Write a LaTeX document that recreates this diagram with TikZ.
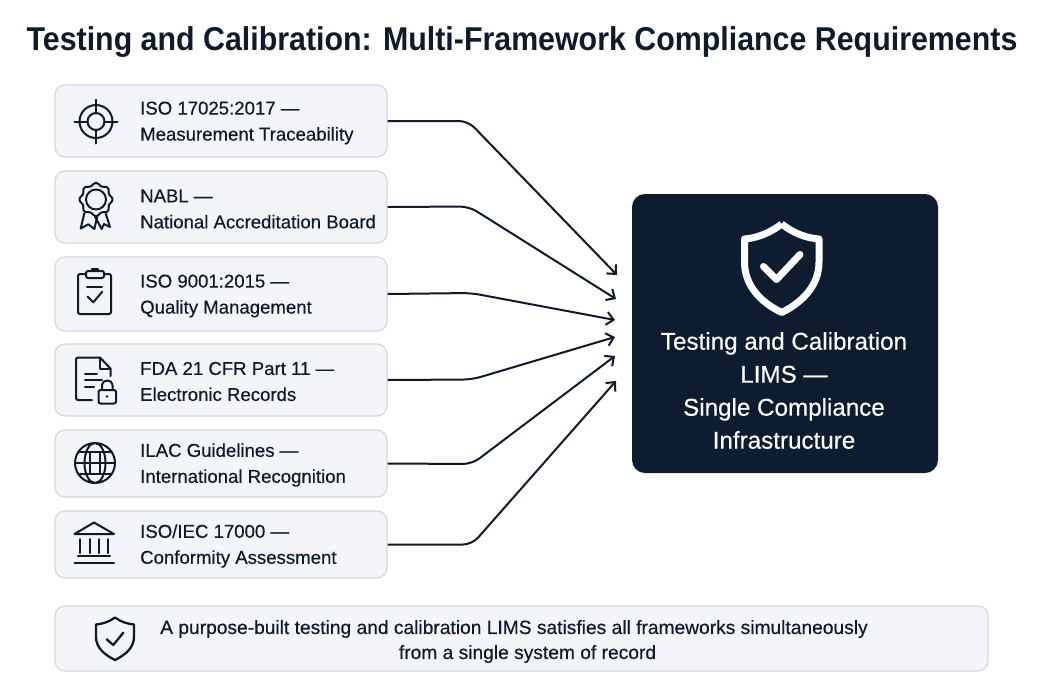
\documentclass[tikz,border=0pt]{standalone}
\usepackage{fontspec}
\setmainfont{Liberation Sans}
\newfontfamily\medfont[FakeBold=0.4]{Liberation Sans}
\newfontfamily\headfont[FakeStretch=0.92]{Liberation Sans Bold}
\usetikzlibrary{arrows.meta}
\definecolor{ink}{HTML}{0F1A2B}
\definecolor{panel}{HTML}{0E1C30}
\definecolor{boxfill}{HTML}{F3F5F8}
\definecolor{boxline}{HTML}{D4D7DC}
\tikzset{
    itembox/.style={draw=boxline, line width=1.2pt, fill=boxfill, rounded corners=10pt,
        minimum width=332pt, inner sep=0pt},
    itemtext/.style={anchor=west, align=left, text=ink, inner sep=0pt,
        font=\medfont\fontsize{18.6}{26}\selectfont},
    arrowline/.style={draw=ink, line width=2pt, rounded corners=9pt,
        -{Straight Barb[length=7pt,width=13pt,line width=2pt]}},
    icon/.style={draw=ink, line width=2pt, line cap=round, line join=round}
}
\begin{document}
\begin{tikzpicture}[x=1pt,y=-1pt]
    \useasboundingbox (0,0) rectangle (1041,694);
    \fill[white] (0,0) rectangle (1041,694);

    % title
    \node[text=ink, inner sep=0pt, font=\headfont\fontsize{33}{38}\selectfont] (title) at (522,42.5)
        {Testing and Calibration: Multi-Framework Compliance Requirements};

    % left column boxes
    \node[itembox, minimum height=72pt] (iso) at (221,121) {};
    \node[itembox, minimum height=72pt] (nabl) at (221,207) {};
    \node[itembox, minimum height=74pt] (qms) at (221,294) {};
    \node[itembox, minimum height=72pt] (fda) at (221,380) {};
    \node[itembox, minimum height=67pt] (ilac) at (221,463.5) {};
    \node[itembox, minimum height=67pt] (conf) at (221,544.5) {};

    % box labels
    \node[itemtext] (isotext) at (140,123) {ISO 17025:2017 —\\Measurement Traceability};
    \node[itemtext] (nabltext) at (140,209) {NABL —\\National Accreditation Board};
    \node[itemtext] (qmstext) at (140,296) {ISO 9001:2015 —\\Quality Management};
    \node[itemtext] (fdatext) at (140,381.5) {FDA 21 CFR Part 11 —\\Electronic Records};
    \node[itemtext] (ilactext) at (140,465) {ILAC Guidelines —\\International Recognition};
    \node[itemtext] (conftext) at (140,546) {ISO/IEC 17000 —\\Conformity Assessment};

    % dark panel on the right
    \node[fill=panel, rounded corners=13pt, minimum width=306pt, minimum height=279pt, inner sep=0pt]
        (lims) at (785,333.5) {};
    \node[text=white, align=center, inner sep=0pt, font=\medfont\fontsize{24.2}{33}\selectfont]
        (limstext) at (784,390.5) {Testing and Calibration\\LIMS —\\Single Compliance\\Infrastructure};

    % big shield
    \draw[white, line width=7pt, line join=round]
        (781.7,224) .. controls (770,233) and (757,238) .. (744.5,239)
        -- (744.5,262) .. controls (744.5,285) and (760,302) .. (781.7,312.5)
        .. controls (803,302) and (819,285) .. (819,262)
        -- (819,239) .. controls (806,238) and (793,233) .. (781.7,224);
    \draw[white, line width=7pt, line cap=round, line join=round]
        (763.5,266.5) -- (776.5,279.5) -- (800,254.5);

    % connectors
    \coordinate (bend1) at (468,121);
    \coordinate (bend2) at (469,206.5);
    \coordinate (bend3) at (471,293);
    \coordinate (bend4) at (472,379.5);
    \coordinate (bend5) at (472,464);
    \coordinate (bend6) at (472,544.5);
    \coordinate (end1) at (617,275);
    \coordinate (end2) at (616,299);
    \coordinate (end3) at (615,320);
    \coordinate (end4) at (615,337);
    \coordinate (end5) at (615,356);
    \coordinate (end6) at (616,381);
    \draw[arrowline] (iso.east) -- (bend1) -- (end1);
    \draw[arrowline] (nabl.east) -- (bend2) -- (end2);
    \draw[arrowline] (qms.east) -- (bend3) -- (end3);
    \draw[arrowline] (fda.east) -- (bend4) -- (end4);
    \draw[arrowline] (ilac.east) -- (bend5) -- (end5);
    \draw[arrowline] (conf.east) -- (bend6) -- (end6);

    % target icon
    \draw[icon] (96,121.5) circle (16.5) (96,121.5) circle (8.5);
    \draw[icon] (74.5,121.5) -- (87.5,121.5) (104.5,121.5) -- (117.5,121.5)
        (96,99.5) -- (96,113) (96,130) -- (96,143.5);

    % rosette icon
    \draw[icon] plot[domain=0:360, samples=121, smooth]
        ({96+(15.3+1.2*cos(8*\x))*cos(\x)},{199.5+(15.3+1.2*cos(8*\x))*sin(\x)});
    \draw[icon] (96,199.5) circle (10);
    \draw[icon] (84.3,213.3) -- (80.7,228.5) -- (88.3,224.3) -- (94.3,229) -- (97.3,216.7);
    \draw[icon] (95,216.7) -- (101.7,229) -- (104,224) -- (110,227) -- (105.7,213.3);

    % clipboard icon
    \draw[icon, rounded corners=2pt] (85,274) -- (78,274) -- (78,314) -- (111,314) -- (111,274) -- (104,274);
    \draw[icon, fill=boxfill, rounded corners=2pt] (86,278) rectangle (104,271);
    \draw[icon] (92,271) -- (92,269) -- (98,269) -- (98,271);
    \draw[icon] (87,286.7) -- (102,286.7);
    \draw[icon] (87.7,296.7) -- (93.3,302.3) -- (102.3,291.7);

    % document with lock icon
    \draw[icon, rounded corners=2pt] (92,400) -- (76,400) -- (76,357.5) -- (100,357.5);
    \draw[icon] (100,357.5) -- (110.5,368.5) -- (110.5,376);
    \draw[icon] (100,357.5) -- (100,368.5) -- (110.5,368.5);
    \draw[icon] (85,373.5) -- (97,373.5) (85,380) -- (102,380) (85,386.5) -- (94,386.5);
    \draw[icon, rounded corners=2pt] (98.5,390) rectangle (116,403.5);
    \draw[icon] (102,390) -- (102,385) .. controls (102,379) and (112.5,379) .. (112.5,385) -- (112.5,390);
    \fill[ink] (107,396.5) circle (1.4);

    % globe icon
    \draw[icon] (95,463) circle (20) (95,463) ellipse (10.5 and 20);
    \draw[icon] (75,463) -- (115,463) (78.5,452) -- (111.5,452) (78.5,474) -- (111.5,474);
    \draw[icon, line width=1.2pt] (90,452) -- (90,474) (100,452) -- (100,474);

    % building icon
    \draw[icon] (74.5,534) -- (94,522.5) -- (114,534) -- cycle;
    \draw[icon] (80,539) -- (80,553) (89.5,539) -- (89.5,553) (98.5,539) -- (98.5,553) (108,539) -- (108,553);
    \draw[icon] (78,556) -- (110,556) (74.5,563) -- (114,563);

    % bottom note
    \node[itembox, minimum width=933pt, minimum height=65pt] (note) at (521.5,638.5) {};
    \node[align=center, text=ink, inner sep=0pt, font=\medfont\fontsize{19.2}{25}\selectfont] (notetext) at (514,641.5)
        {A purpose-built testing and calibration LIMS satisfies all frameworks simultaneously\\\hspace*{27pt}from a single system of record};
    \draw[icon, line width=2.3pt]
        (115,617.5) .. controls (109,622) and (102,624) .. (96,624.5)
        -- (96,637) .. controls (96,648) and (105,655) .. (115,660)
        .. controls (125,655) and (134,648) .. (134,637)
        -- (134,624.5) .. controls (128,624) and (121,622) .. (115,617.5);
    \draw[icon, line width=2.3pt] (106.7,639.3) -- (113.3,645) -- (123.3,632.7);
\end{tikzpicture}
\end{document}
